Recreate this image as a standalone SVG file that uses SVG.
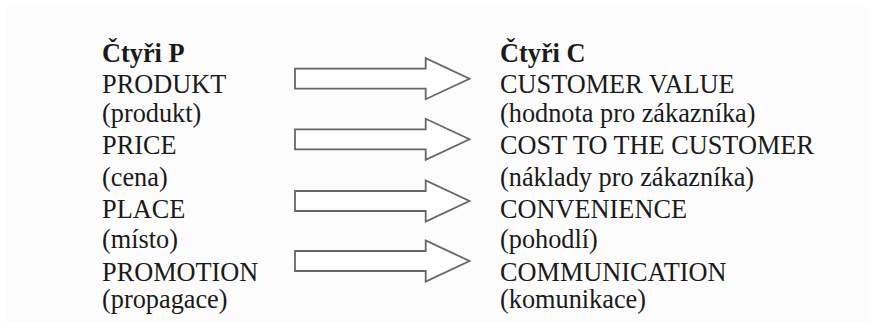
<svg xmlns="http://www.w3.org/2000/svg" width="873" height="322" viewBox="0 0 873 322">
  <style>
    .label { font-family: "Liberation Serif", "Times New Roman", serif; font-size: 26.3px; fill: #1a1a1a; }
    .head { font-weight: bold; }
    .arrow { fill: #ffffff; stroke: #666666; stroke-width: 1.8; stroke-linejoin: miter; }
  </style>
  <defs>
    <!-- block arrow centred on y=0 -->
    <path id="blockArrow" class="arrow" d="M295,-10 H425.7 V-20.5 L469.5,0 L425.7,20.5 V10 H295 Z"/>
  </defs>
  <rect x="0" y="0" width="873" height="322" fill="#ffffff"/>
  <rect x="6" y="7" width="862" height="315" fill="#fcfcfc"/>

  <g id="four-p" class="label">
    <text class="head" x="102" y="62">Čtyři P</text>
    <text x="102" y="92.5">PRODUKT</text>
    <text x="102" y="122">(produkt)</text>
    <text x="102" y="154">PRICE</text>
    <text x="102" y="185.5">(cena)</text>
    <text x="102" y="218">PLACE</text>
    <text x="102" y="248">(místo)</text>
    <text x="102" y="280.5">PROMOTION</text>
    <text x="102" y="307.5">(propagace)</text>
  </g>

  <g id="connectors">
    <use href="#blockArrow" transform="translate(0,78.7)"/>
    <use href="#blockArrow" transform="translate(0,139.3)"/>
    <use href="#blockArrow" transform="translate(0,201)"/>
    <use href="#blockArrow" transform="translate(0,261)"/>
  </g>

  <g id="four-c" class="label">
    <text class="head" x="500" y="62">Čtyři C</text>
    <text x="500" y="92.5">CUSTOMER VALUE</text>
    <text x="500" y="122">(hodnota pro zákazníka)</text>
    <text x="500" y="154">COST TO THE CUSTOMER</text>
    <text x="500" y="185.5">(náklady pro zákazníka)</text>
    <text x="500" y="218">CONVENIENCE</text>
    <text x="500" y="248">(pohodlí)</text>
    <text x="500" y="280.5">COMMUNICATION</text>
    <text x="500" y="307.5">(komunikace)</text>
  </g>
</svg>
